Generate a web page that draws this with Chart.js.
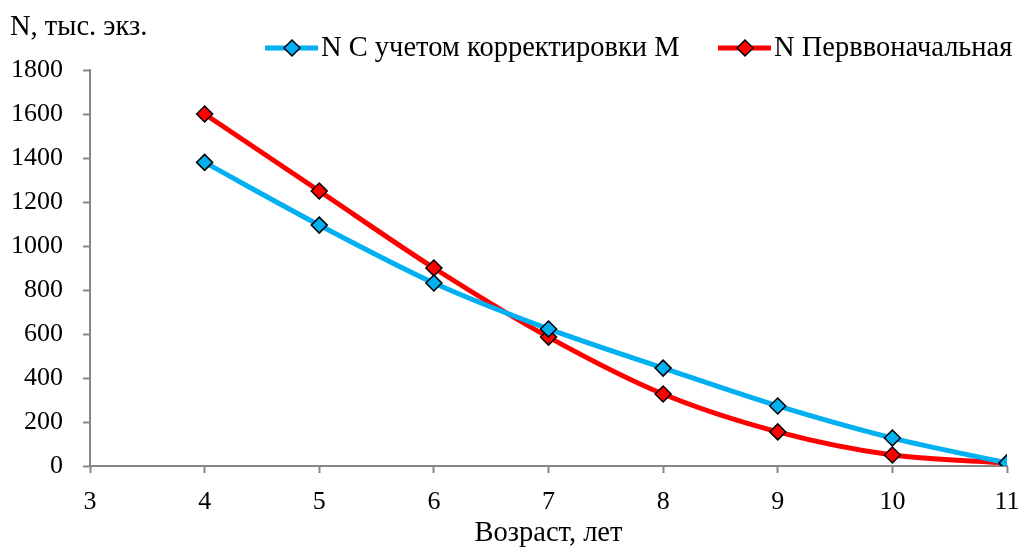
<!DOCTYPE html>
<html>
<head>
<meta charset="utf-8">
<script src="https://cdn.jsdelivr.net/npm/chart.js@4/dist/chart.umd.min.js"></script>
<style>
  html, body { margin: 0; padding: 0; background: #fff; }
  #wrap { width: 1022px; height: 548px; }
</style>
</head>
<body>
<div id="wrap"><canvas id="chart" width="1022" height="548"></canvas></div>
<script>
const ages = [4, 5, 6, 7, 8, 9, 10, 11];
const nCorrected = [1380, 1095, 832, 623, 445, 273, 127, 14];
const nInitial = [1600, 1250, 900, 586, 327, 155, 50, 14];
const seriesNames = ['N С учетом корректировки М', 'N Перввоначальная'];
const yTitle = 'N, тыс. экз.';
const xTitle = 'Возраст, лет';

const FONT = '"Liberation Serif", "Times New Roman", serif';
const colors = ['#00B0F0', '#FF0000'];

function toPoints(values) {
  return ages.map((a, i) => ({ x: a, y: values[i] }));
}

function makeDataset(label, values, color) {
  return {
    label: label,
    data: toPoints(values),
    borderColor: color,
    backgroundColor: color,
    borderWidth: 5,
    tension: 0.3,
    pointStyle: 'rectRot',
    pointRadius: 8,
    pointHoverRadius: 8,
    pointBackgroundColor: color,
    pointBorderColor: '#000',
    pointBorderWidth: 1.5
  };
}

// y-axis title and legend drawn in the top strip
const extras = {
  id: 'extras',
  afterDraw(chart) {
    const ctx = chart.ctx;
    ctx.save();
    ctx.fillStyle = '#000';
    ctx.font = '28.5px ' + FONT;
    ctx.textBaseline = 'middle';
    ctx.textAlign = 'left';
    ctx.fillText(yTitle, 10, 28);

    const items = [
      { x: 265, label: seriesNames[0], color: colors[0] },
      { x: 718, label: seriesNames[1], color: colors[1] }
    ];
    items.forEach(it => {
      const y = 48;
      ctx.strokeStyle = it.color;
      ctx.lineWidth = 5;
      ctx.beginPath();
      ctx.moveTo(it.x, y);
      ctx.lineTo(it.x + 53, y);
      ctx.stroke();
      const cx = it.x + 27, r = 8;
      ctx.beginPath();
      ctx.moveTo(cx, y - r);
      ctx.lineTo(cx + r, y);
      ctx.lineTo(cx, y + r);
      ctx.lineTo(cx - r, y);
      ctx.closePath();
      ctx.fillStyle = it.color;
      ctx.fill();
      ctx.strokeStyle = '#000';
      ctx.lineWidth = 1.5;
      ctx.stroke();
      ctx.fillStyle = '#000';
      ctx.fillText(it.label, it.x + 56, y + 1);
    });
    ctx.restore();
  }
};

new Chart(document.getElementById('chart').getContext('2d'), {
  type: 'line',
  data: {
    datasets: [
      makeDataset(seriesNames[0], nCorrected, colors[0]),
      makeDataset(seriesNames[1], nInitial, colors[1])
    ]
  },
  options: {
    responsive: false,
    animation: false,
    layout: { padding: { top: 70, right: 15, left: 0, bottom: 0 } },
    plugins: {
      legend: { display: false },
      title: { display: false },
      tooltip: { enabled: false }
    },
    scales: {
      x: {
        type: 'linear',
        min: 3,
        max: 11,
        ticks: { stepSize: 1, color: '#000', font: { family: FONT, size: 26 }, padding: 14 },
        grid: { display: true, drawOnChartArea: false, drawTicks: true, tickLength: 7, tickColor: '#868686', tickWidth: 2 },
        border: { color: '#868686', width: 2 },
        title: {
          display: true, text: xTitle, color: '#000',
          font: { family: FONT, size: 28.5, lineHeight: 1 }, padding: { top: 0, bottom: 0 }
        },
        afterFit(scale) { scale.height = 82; scale.paddingRight = 15; }
      },
      y: {
        min: 0,
        max: 1800,
        ticks: {
          stepSize: 200, color: '#000', font: { family: FONT, size: 26 }, padding: 20,
          callback: v => String(v)
        },
        grid: { display: true, drawOnChartArea: false, drawTicks: true, tickLength: 7, tickColor: '#868686', tickWidth: 2 },
        border: { color: '#868686', width: 2 },
        afterFit(scale) { scale.width = 90; }
      }
    }
  },
  plugins: [extras]
});
</script>
</body>
</html>
